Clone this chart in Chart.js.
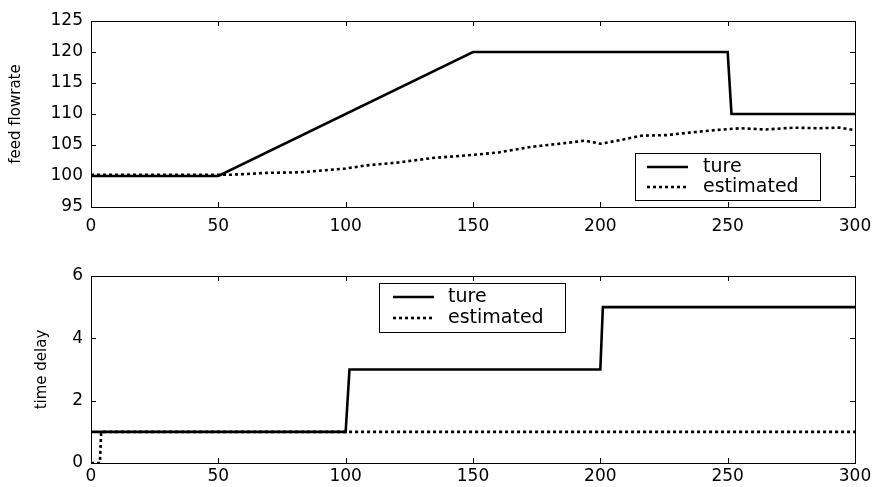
<!DOCTYPE html>
<html>
<head>
<meta charset="utf-8">
<script src="https://cdn.jsdelivr.net/npm/chart.js@4.4.1/dist/chart.umd.min.js"></script>
<style>
  body { margin: 0; background: #fff; }
  canvas { display: block; }
</style>
</head>
<body>
<canvas id="flow" width="877" height="240"></canvas>
<canvas id="delay" width="877" height="247"></canvas>
<script>
// time axis
const xTicks = [0, 50, 100, 150, 200, 250, 300]
const flowTicks = [95, 100, 105, 110, 115, 120, 125]
const delayTicks = [0, 2, 4, 6]

// feed flowrate, true and estimated
const flowTrueT = [0, 50, 150, 250, 251.5, 300]
const flowTrueV = [100, 100, 120, 120, 110, 110]
const flowEstT = [0, 50, 55, 69, 82, 100, 108, 121, 134, 150, 160, 173, 186, 194, 200, 208, 216, 226, 235, 245, 255, 265, 276, 286, 294, 300]
const flowEstV = [100.2, 100.2, 100.2, 100.5, 100.6, 101.2, 101.7, 102.2, 102.9, 103.4, 103.8, 104.7, 105.3, 105.7, 105.2, 105.8, 106.5, 106.6, 107.0, 107.4, 107.7, 107.5, 107.8, 107.7, 107.8, 107.4]

// time delay, true and estimated
const delayTrueT = [0, 100, 101.5, 200, 201, 300]
const delayTrueV = [1, 1, 3, 3, 5, 5]
const delayEstT = [0, 3.5, 4, 300]
const delayEstV = [0, 0, 1, 1]

const seriesNames = ['ture', 'estimated']

Chart.defaults.font.family = 'DejaVu Sans'
Chart.defaults.color = '#000'

function pts(t, v) {
    return t.map((x, i) => ({ x: x, y: v[i] }))
}

// box round the plot and short ticks pointing inwards, matlab style
const frameTicks = {
    id: 'frameTicks',
    afterDraw(chart) {
        const ctx = chart.ctx
        const a = chart.chartArea
        const len = 5
        ctx.save()
        ctx.strokeStyle = '#000'
        ctx.lineWidth = 1
        ctx.setLineDash([])
        ctx.strokeRect(a.left + 0.5, a.top + 0.5, a.right - a.left, a.bottom - a.top)
        ctx.beginPath()
        chart.scales.x.ticks.forEach(t => {
            const px = Math.round(chart.scales.x.getPixelForValue(t.value)) + 0.5
            ctx.moveTo(px, a.bottom); ctx.lineTo(px, a.bottom - len)
            ctx.moveTo(px, a.top); ctx.lineTo(px, a.top + len)
        })
        chart.scales.y.ticks.forEach(t => {
            const py = Math.round(chart.scales.y.getPixelForValue(t.value)) + 0.5
            ctx.moveTo(a.left, py); ctx.lineTo(a.left + len, py)
            ctx.moveTo(a.right, py); ctx.lineTo(a.right - len, py)
        })
        ctx.stroke()
        ctx.restore()
    }
}

// legend drawn as a framed box inside the axes
const boxLegend = {
    id: 'boxLegend',
    afterDraw(chart, args, o) {
        const ctx = chart.ctx
        ctx.save()
        ctx.fillStyle = '#fff'
        ctx.fillRect(o.x, o.y, o.w, o.h)
        ctx.strokeStyle = '#000'
        ctx.lineWidth = 1
        ctx.setLineDash([])
        ctx.strokeRect(o.x + 0.5, o.y + 0.5, o.w, o.h)
        ctx.font = o.font
        ctx.fillStyle = '#000'
        ctx.textBaseline = 'middle'
        chart.data.datasets.forEach((ds, i) => {
            const cy = o.y + o.row0 + i * o.rowGap
            ctx.beginPath()
            ctx.lineWidth = ds.borderWidth
            ctx.setLineDash(ds.borderDash || [])
            ctx.moveTo(o.x + o.sample, cy)
            ctx.lineTo(o.x + o.sample + 41, cy)
            ctx.stroke()
            ctx.setLineDash([])
            ctx.fillText(ds.label, o.x + o.text, cy)
        })
        ctx.restore()
    }
}

function makeChart(id, cfg) {
    return new Chart(document.getElementById(id), {
        type: 'line',
        data: {
            datasets: [
                { label: seriesNames[0], data: cfg.trueData, borderColor: '#000', borderWidth: 2.6, pointRadius: 0, tension: 0 },
                { label: seriesNames[1], data: cfg.estData, borderColor: '#000', borderWidth: 2.6, borderDash: [3, 3], pointRadius: 0, tension: 0 }
            ]
        },
        options: {
            responsive: false,
            animation: false,
            layout: { padding: { left: 0, right: 22, top: cfg.top, bottom: 0 } },
            plugins: {
                legend: { display: false },
                tooltip: { enabled: false },
                boxLegend: cfg.legend
            },
            scales: {
                x: {
                    type: 'linear', min: 0, max: 300,
                    afterBuildTicks: s => { s.ticks = xTicks.map(v => ({ value: v })) },
                    // fixed height, and keep the tick padding from widening the right margin
                    afterFit: s => { s.height = cfg.xHeight; s.paddingRight = 16 },
                    grid: { display: false, drawTicks: false },
                    border: { display: false },
                    ticks: { padding: cfg.xPad, maxRotation: 0, font: { size: 17 } }
                },
                y: {
                    min: cfg.yTicks[0], max: cfg.yTicks[cfg.yTicks.length - 1],
                    afterBuildTicks: s => { s.ticks = cfg.yTicks.map(v => ({ value: v })) },
                    afterFit: s => { s.width = 91 },
                    grid: { display: false, drawTicks: false },
                    border: { display: false },
                    ticks: { padding: 8, font: { size: 17 } },
                    title: { display: true, text: cfg.yTitle, font: { size: 15 }, padding: { top: cfg.titlePad, bottom: 0 } }
                }
            }
        },
        plugins: [frameTicks, boxLegend]
    })
}

makeChart('flow', {
    trueData: pts(flowTrueT, flowTrueV),
    estData: pts(flowEstT, flowEstV),
    yTicks: flowTicks,
    yTitle: 'feed flowrate',
    top: 21, xHeight: 33, xPad: 9, titlePad: 7,
    legend: { x: 635, y: 153, w: 185, h: 47, row0: 14, rowGap: 20, sample: 12, text: 68, font: '19px "DejaVu Sans"' }
})

makeChart('delay', {
    trueData: pts(delayTrueT, delayTrueV),
    estData: pts(delayEstT, delayEstV),
    yTicks: delayTicks,
    yTitle: 'time delay',
    top: 36, xHeight: 24, xPad: 3, titlePad: 33,
    legend: { x: 379, y: 43, w: 186, h: 49, row0: 14, rowGap: 21, sample: 14, text: 69, font: '19px "DejaVu Sans"' }
})
</script>
</body>
</html>
